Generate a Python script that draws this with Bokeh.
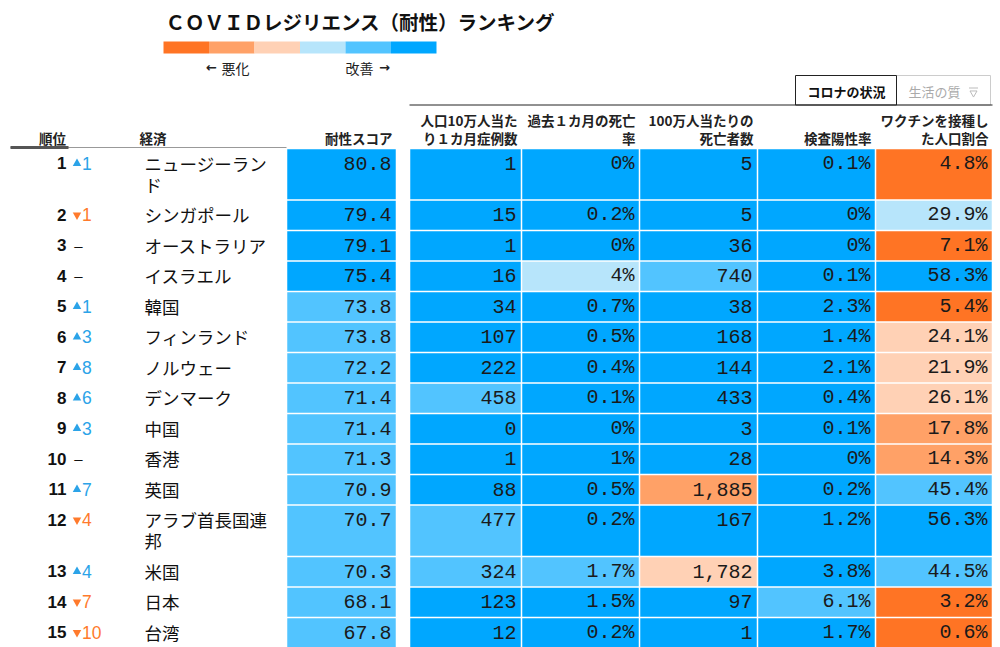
from bokeh.plotting import figure
from bokeh.models import Range1d, ColumnDataSource
from bokeh.core.properties import value
from bokeh.embed import file_html
from bokeh.resources import INLINE

# ---------------- data ----------------
title = "ＣＯＶＩＤレジリエンス（耐性）ランキング"
legend_worse = "悪化"
legend_better = "改善"
tab_active = "コロナの状況"
tab_inactive = "生活の質"

head_rank = "順位"
head_economy = "経済"
head_score = "耐性スコア"
data_headers = [
    ["人口10万人当た", "り１カ月症例数"],
    ["過去１カ月の死亡", "率"],
    ["100万人当たりの", "死亡者数"],
    ["", "検査陽性率"],
    ["ワクチンを接種し", "た人口割合"],
]

ranks = list(range(1, 16))
rank_change = [1, -1, 0, 0, 1, 3, 8, 6, 3, 0, 7, -4, 4, -7, -10]
economies = ["ニュージーランド", "シンガポール", "オーストラリア", "イスラエル", "韓国",
             "フィンランド", "ノルウェー", "デンマーク", "中国", "香港", "英国",
             "アラブ首長国連邦", "米国", "日本", "台湾"]
scores = [80.8, 79.4, 79.1, 75.4, 73.8, 73.8, 72.2, 71.4, 71.4, 71.3, 70.9, 70.7, 70.3, 68.1, 67.8]
score_level = [5, 5, 5, 5, 4, 4, 4, 4, 4, 4, 4, 4, 4, 4, 4]

cases = [1, 15, 1, 16, 34, 107, 222, 458, 0, 1, 88, 477, 324, 123, 12]
cases_level = [5, 5, 5, 5, 5, 5, 5, 4, 5, 5, 5, 4, 4, 5, 5]
death_rate = [0, 0.2, 0, 4, 0.7, 0.5, 0.4, 0.1, 0, 1, 0.5, 0.2, 1.7, 1.5, 0.2]
death_rate_level = [5, 5, 5, 3, 5, 5, 5, 5, 5, 5, 5, 5, 4, 5, 5]
deaths_per_m = [5, 5, 36, 740, 38, 168, 144, 433, 3, 28, 1885, 167, 1782, 97, 1]
deaths_level = [5, 5, 5, 4, 5, 5, 5, 5, 5, 5, 1, 5, 2, 5, 5]
positivity = [0.1, 0, 0, 0.1, 2.3, 1.4, 2.1, 0.4, 0.1, 0, 0.2, 1.2, 3.8, 6.1, 1.7]
positivity_level = [5, 5, 5, 5, 5, 5, 5, 5, 5, 5, 5, 5, 5, 4, 5]
vaccinated = [4.8, 29.9, 7.1, 58.3, 5.4, 24.1, 21.9, 26.1, 17.8, 14.3, 45.4, 56.3, 44.5, 3.2, 0.6]
vaccinated_level = [0, 3, 0, 5, 0, 2, 2, 2, 1, 1, 4, 5, 4, 0, 0]

# ---------------- styles / layout ----------------
level_colors = ["#ff7424", "#ffa167", "#ffd1b5", "#b7e5fb", "#52c4ff", "#00a7ff"]
UP_COLOR = "#2ba3e8"
DOWN_COLOR = "#ff7a2c"
JP = value("Noto Sans CJK JP")
MONO = value("Liberation Mono")
SANS = value("Liberation Sans")

W, H = 1000, 647
COL_L = [409, 521, 639, 757, 875]
COL_R = [521, 639, 757, 875, 992]
SCORE_L, SCORE_R = 286, 396
TABLE_TOP = 148
ROW_H = 30.5
LINE_H = 21
WRAP = 7

# row geometry
name_lines = [[n[i:i + WRAP] for i in range(0, len(n), WRAP)] for n in economies]
row_top, row_bot = [], []
y = TABLE_TOP
for lines in name_lines:
    h = ROW_H + LINE_H * (len(lines) - 1)
    row_top.append(y)
    row_bot.append(y + h)
    y += h
text_y = [t + 14.5 for t in row_top]

p = figure(width=W, height=H, x_range=Range1d(0, W), y_range=Range1d(H, 0),
           output_backend="svg", toolbar_location=None, min_border=0)
p.axis.visible = False
p.grid.visible = False
p.outline_line_color = None
p.background_fill_color = "white"
p.border_fill_color = "white"

# title
p.text(x=[165], y=[21], text=[title], text_font=JP, text_font_size="19.5px",
       text_font_style="bold", text_baseline="middle", text_align="left", text_color="#111111")

# legend bar
seg_w = (436 - 163) / len(level_colors)
p.quad(left=[163 + i * seg_w for i in range(6)], right=[163 + (i + 1) * seg_w for i in range(6)],
       top=[41] * 6, bottom=[53] * 6, fill_color=level_colors, line_color=None)
p.text(x=[221, 345], y=[67, 67], text=[legend_worse, legend_better], text_font=JP,
       text_font_size="14px", text_align="left", text_baseline="middle", text_color="#222222")
p.text(x=[211, 384], y=[67, 67], text=["←", "→"], text_font=value("DejaVu Sans"),
       text_font_size="13px", text_font_style="bold", text_align="center", text_baseline="middle",
       text_color="#222222")

# tabs
p.quad(left=[896], right=[990], top=[75], bottom=[104.5], fill_color=None, line_color="#cccccc", line_width=1)
p.quad(left=[795], right=[896], top=[75], bottom=[104.5], fill_color=None, line_color="#222222", line_width=1)
p.text(x=[846], y=[91], text=[tab_active], text_font=JP, text_font_size="13px", text_font_style="bold",
       text_align="center", text_baseline="middle", text_color="#111111")
p.text(x=[934], y=[91], text=[tab_inactive], text_font=JP, text_font_size="13px",
       text_align="center", text_baseline="middle", text_color="#aaaaaa")
p.scatter(x=[973], y=[92.5], marker="inverted_triangle", size=7, fill_color=None, line_color="#bbbbbb")
p.line(x=[968.5, 977.5], y=[87.5, 87.5], line_color="#bbbbbb", line_width=1)
p.line(x=[409, 992], y=[104.5, 104.5], line_color="#222222", line_width=1)

# headers
p.text(x=[52], y=[137], text=[head_rank], text_font=JP, text_font_size="13.5px", text_font_style="bold",
       text_align="center", text_baseline="middle", text_color="#222222")
p.text(x=[139], y=[137], text=[head_economy], text_font=JP, text_font_size="13.5px", text_font_style="bold",
       text_align="left", text_baseline="middle", text_color="#222222")
p.text(x=[392], y=[137], text=[head_score], text_font=JP, text_font_size="13.5px", text_font_style="bold",
       text_align="right", text_baseline="middle", text_color="#222222")
hx, hy, ht = [], [], []
for c, lines in enumerate(data_headers):
    for i, t in enumerate(lines):
        if t:
            hx.append(COL_R[c] - 4)
            hy.append(119 + 18 * i)
            ht.append(t)
p.text(x=hx, y=hy, text=ht, text_font=JP, text_font_size="13.5px", text_font_style="bold",
       text_align="right", text_baseline="middle", text_color="#222222")
p.line(x=[10, 286], y=[147, 147], line_color="#999999", line_width=1)
p.line(x=[10, 68], y=[147, 147], line_color="#555555", line_width=3)

# cells
gap = 0.75
cols = [
    (SCORE_L, SCORE_R, score_level, [f"{v:.1f}" for v in scores]),
    (COL_L[0], COL_R[0], cases_level, [f"{v:,}" for v in cases]),
    (COL_L[1], COL_R[1], death_rate_level, [f"{v:g}%" for v in death_rate]),
    (COL_L[2], COL_R[2], deaths_level, [f"{v:,}" for v in deaths_per_m]),
    (COL_L[3], COL_R[3], positivity_level, [f"{v:g}%" for v in positivity]),
    (COL_L[4], COL_R[4], vaccinated_level, [f"{v:.1f}%" for v in vaccinated]),
]
for L, R, lev, labels in cols:
    src = ColumnDataSource(dict(
        left=[L + gap] * len(lev), right=[R - gap] * len(lev),
        top=[t + gap for t in row_top], bottom=[b - gap for b in row_bot],
        color=[level_colors[k] for k in lev],
        tx=[R - 5] * len(lev), ty=text_y, label=labels))
    p.quad(left="left", right="right", top="top", bottom="bottom", fill_color="color",
           line_color=None, source=src)
    p.text(x="tx", y="ty", text="label", source=src, text_font=MONO, text_font_size="20px",
           text_align="right", text_baseline="middle", text_color="#1a1a1a")

# rank numbers
p.text(x=[66] * len(ranks), y=text_y, text=[str(r) for r in ranks], text_font=SANS,
       text_font_size="17px", text_font_style="bold", text_align="right", text_baseline="middle",
       text_color="#111111")

# rank changes
ux = [i for i, c in enumerate(rank_change) if c > 0]
dx = [i for i, c in enumerate(rank_change) if c < 0]
zx = [i for i, c in enumerate(rank_change) if c == 0]
p.scatter(x=[76.5] * len(ux), y=[text_y[i] + 0.5 for i in ux], marker="triangle", size=8.5,
          fill_color=UP_COLOR, line_color=None)
p.scatter(x=[76.5] * len(dx), y=[text_y[i] + 0.5 for i in dx], marker="inverted_triangle", size=8.5,
          fill_color=DOWN_COLOR, line_color=None)
p.text(x=[81.5] * len(ux), y=[text_y[i] for i in ux], text=[str(rank_change[i]) for i in ux],
       text_font=SANS, text_font_size="17.5px", text_align="left", text_baseline="middle", text_color=UP_COLOR)
p.text(x=[81.5] * len(dx), y=[text_y[i] for i in dx], text=[str(-rank_change[i]) for i in dx],
       text_font=SANS, text_font_size="17.5px", text_align="left", text_baseline="middle", text_color=DOWN_COLOR)
p.text(x=[78] * len(zx), y=[text_y[i] for i in zx], text=["–"] * len(zx),
       text_font=SANS, text_font_size="15px", text_align="center", text_baseline="middle", text_color="#111111")

# economy names
nx, ny, nt = [], [], []
for r, lines in enumerate(name_lines):
    for i, t in enumerate(lines):
        nx.append(144)
        ny.append(text_y[r] + LINE_H * i)
        nt.append(t)
p.text(x=nx, y=ny, text=nt, text_font=JP, text_font_size="17.5px", text_align="left",
       text_baseline="middle", text_color="#111111")

open("out.html", "w").write(file_html(p, INLINE))
